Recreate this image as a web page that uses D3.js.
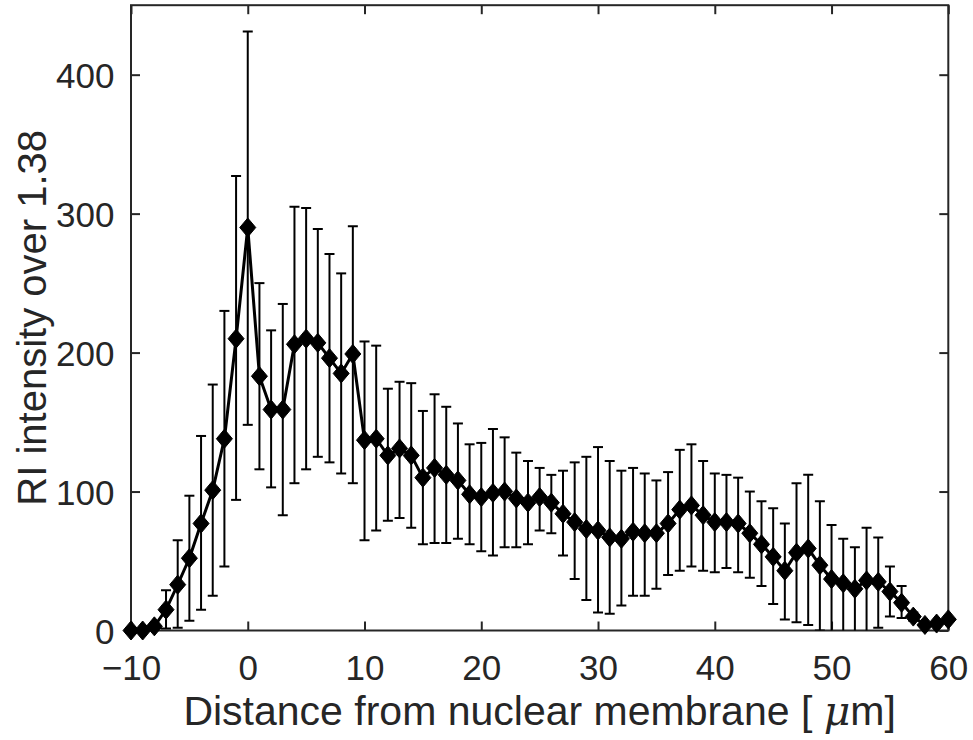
<!DOCTYPE html>
<html>
<head>
<meta charset="utf-8">
<script src="https://cdn.jsdelivr.net/npm/d3@7"></script>
<style>
  html, body { margin: 0; padding: 0; background: #fff; }
  svg { display: block; }
  text { font-family: "Liberation Sans", Arial, Helvetica, sans-serif; fill: #262626; }
</style>
</head>
<body>
<svg id="chart" width="973" height="740"></svg>
<script>
// ---- data ----
const distance = [-10,-9,-8,-7,-6,-5,-4,-3,-2,-1,0,1,2,3,4,5,6,7,8,9,10,11,12,13,14,15,16,17,18,19,20,
  21,22,23,24,25,26,27,28,29,30,31,32,33,34,35,36,37,38,39,40,41,42,43,44,45,46,47,48,49,50,
  51,52,53,54,55,56,57,58,59,60];
const meanRI = [0,0,3,15,33,52,77,101,138,210,290,183,159,159,206,210,207,196,185,199,137,
  138,126,131,126,110,117,112,108,98,96,99,100,95,92,96,92,84,78,73,72,
  67,66,71,70,70,77,87,90,83,78,78,77,70,62,53,43,56,59,47,37,
  34,30,36,35,28,20,10,4,5,8];
const upperRI = [0,0,3,29,65,97,140,177,230,327,431,250,216,235,305,304,289,271,257,291,208,
  205,174,179,178,158,170,161,149,134,135,145,139,128,122,117,112,115,121,125,132,
  122,115,117,113,108,114,130,134,122,113,112,110,100,93,88,77,106,112,93,76,
  66,60,74,67,46,32,13,4,5,8];
const lowerRI = [0,0,3,1.5,2,7,15,25,46,94,148,116,103,83,106,116,125,121,113,106,65,
  72,79,81,74,62,63,63,66,62,57,54,60,60,62,72,70,54,37,22,13,
  12,18,25,25,30,40,43,46,43,42,45,42,38,32,19,8,6,4,0,-3,
  -2,-1,-3,2,10,9,7,4,5,8];
const xTicks = [-10,0,10,20,30,40,50,60];
const yTicks = [0,100,200,300,400];
const xLabel = "Distance from nuclear membrane [ ";
const yLabel = "RI intensity over 1.38";

const rows = distance.map((d,i) => ({x:d, y:meanRI[i], hi:upperRI[i], lo:lowerRI[i]}));

// ---- layout ----
const svg = d3.select("#chart");
const L = 131, R = 948.3, T = 5.2, B = 630.5;
const x = d3.scaleLinear().domain([-10, 60]).range([L, R]);
const y = d3.scaleLinear().domain([0, 450]).range([B, T]);
const axisColor = "#262626";

svg.append("defs").append("clipPath").attr("id","plotclip")
  .append("rect").attr("x", L).attr("y", T).attr("width", R-L).attr("height", B-T);

// ---- axes ----
const gx = svg.append("g").attr("transform", `translate(0,${B})`)
  .call(d3.axisBottom(x).tickValues(xTicks).tickSize(-9).tickFormat(d3.format("d")));
const gxt = svg.append("g").attr("transform", `translate(0,${T})`)
  .call(d3.axisTop(x).tickValues(xTicks).tickSize(-9).tickFormat(""));
const gy = svg.append("g").attr("transform", `translate(${L},0)`)
  .call(d3.axisLeft(y).tickValues(yTicks).tickSize(-9).tickPadding(16.5));
const gyr = svg.append("g").attr("transform", `translate(${R},0)`)
  .call(d3.axisRight(y).tickValues(yTicks).tickSize(-9).tickFormat(""));

[gx, gxt, gy, gyr].forEach(g => {
  g.select(".domain").remove();
  g.selectAll(".tick line").attr("stroke", axisColor).attr("stroke-width", 2);
  g.selectAll(".tick text").attr("fill", axisColor).style("font-size", "35px")
    .style("font-family", "'Liberation Sans', Arial, sans-serif");
});
gx.selectAll(".tick text").attr("y", 49.5).attr("dy", 0);
gy.selectAll(".tick text").attr("dy", "0.36em");

svg.append("rect").attr("x", L).attr("y", T).attr("width", R-L).attr("height", B-T)
  .attr("fill", "none").attr("stroke", axisColor).attr("stroke-width", 2);

// ---- error bars ----
const capW = 5;
const eb = svg.append("g").attr("clip-path", "url(#plotclip)")
  .attr("stroke", "#000").attr("stroke-width", 2).attr("fill", "none");
rows.filter(d => d.hi > d.lo).forEach(d => {
  const cx = x(d.x);
  eb.append("line").attr("x1", cx).attr("x2", cx).attr("y1", y(d.hi)).attr("y2", y(d.lo));
  eb.append("line").attr("x1", cx-capW).attr("x2", cx+capW).attr("y1", y(d.hi)).attr("y2", y(d.hi));
  eb.append("line").attr("x1", cx-capW).attr("x2", cx+capW).attr("y1", y(d.lo)).attr("y2", y(d.lo));
});

// ---- line ----
svg.append("path").datum(rows)
  .attr("fill", "none").attr("stroke", "#000").attr("stroke-width", 3)
  .attr("stroke-linejoin", "round")
  .attr("d", d3.line().x(d => x(d.x)).y(d => y(d.y)));

// ---- diamond markers ----
const hw = 8, hh = 9.5;
svg.append("g").selectAll("path").data(rows).join("path")
  .attr("fill", "#000").attr("stroke", "#000").attr("stroke-width", 1)
  .attr("d", d => {
    const cx = x(d.x), cy = y(d.y);
    return `M${cx},${cy-hh}L${cx+hw},${cy}L${cx},${cy+hh}L${cx-hw},${cy}Z`;
  });

// ---- labels ----
const xl = svg.append("text").attr("x", (L+R)/2).attr("y", 725)
  .attr("text-anchor", "middle").style("font-size", "41px");
xl.append("tspan").text(xLabel);
xl.append("tspan").style("font-style", "italic").style("font-family", "'DejaVu Serif', serif").text("μ");
xl.append("tspan").text("m]");

svg.append("text").attr("transform", `translate(46,${(T+B)/2}) rotate(-90)`)
  .attr("text-anchor", "middle").style("font-size", "40px").text(yLabel);
</script>
</body>
</html>
